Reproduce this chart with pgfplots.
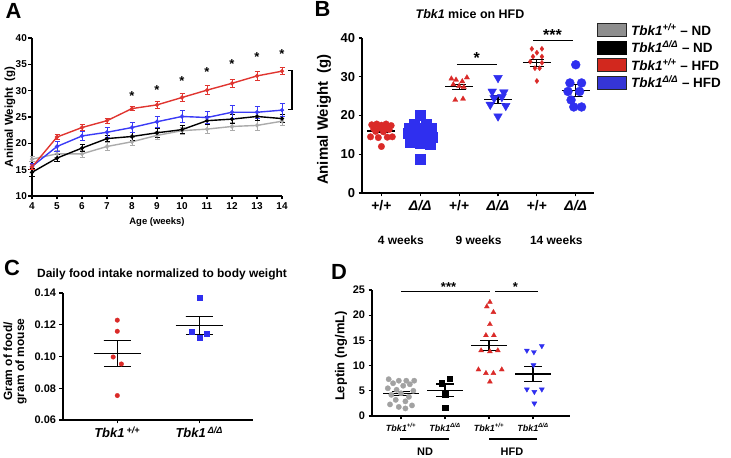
\documentclass[border=0pt]{standalone}
\usepackage{fontspec}
\setmainfont{Liberation Sans}
\usepackage{pgfplots}
\pgfplotsset{compat=1.18}

\definecolor{gpred}{HTML}{DA2A28}
\definecolor{gpblue}{HTML}{2F2FEF}
\definecolor{gpgray}{HTML}{A2A2A2}
\definecolor{lnred}{HTML}{E03530}
\definecolor{lnblue}{HTML}{3B3BF6}
\definecolor{lngray}{HTML}{ABABAB}
\definecolor{lgred}{HTML}{D2281E}
\definecolor{lgblue}{HTML}{3535D6}
\definecolor{lggray}{HTML}{8E8E8E}

\newcommand{\fs}[1]{\fontsize{#1}{#1}\selectfont}
\newcommand{\tbk}[1]{\textit{Tbk1}\textsuperscript{\textit{#1}}}

\tikzset{star/.style={font=\bfseries\fs{13}, inner sep=0pt, yshift=-2.5bp}}
\pgfplotsset{
 gp/.style={scale only axis, clip=false, axis x line*=bottom, axis y line*=left,
   axis line style={line width=1.4bp, black},
   tick style={line width=1.2bp, black},
   tick align=outside, major tick length=3.5bp,
   /pgf/number format/assume math mode=true,
   ticklabel style={font=\bfseries\fs{10.5}},
   label style={font=\bfseries\fs{12}}},
 bar/.style={black, line width=1.2bp, mark=none, forget plot},
 dots/.style={only marks, forget plot, color=#1, mark options={draw=#1, fill=#1, line width=0.3bp}},
 lgbox/.style={legend image code/.code={\draw[##1, line width=0.9bp] (0bp,-6.5bp) rectangle (29bp,6.5bp);}},
 errA/.style={error bars/.cd, y dir=both, y explicit, error bar style={line width=1bp}, error mark options={rotate=90, mark size=2.5bp, line width=1bp}},
}

\begin{document}
\begin{tikzpicture}
\useasboundingbox (0,0) rectangle (731bp,458bp);

%================ Panel A ================
\begin{axis}[gp, at={(32bp,262bp)}, anchor=south west, width=250bp, height=158bp,
  xmin=4, xmax=14, ymin=10, ymax=40, xtick={4,5,...,14}, ytick={10,15,...,40},
  ticklabel style={font=\bfseries\fs{10}},
  yticklabel style={inner xsep=1.5bp},
  ylabel={Animal Weight\ \ (g)},
  ylabel style={font=\bfseries\fs{11.5}, at={(axis description cs:0,0.5)}, yshift=22bp, anchor=center},
  xlabel={Age (weeks)},
  xlabel style={font=\bfseries\fs{9.5}, at={(axis description cs:0.5,0)}, yshift=-26bp, anchor=center},
]
\addplot[lngray, line width=1.4bp, mark=*, mark size=1.3bp, errA] table[x=x, y=y, y error=e] {
x y e
4 17.0 0.5
5 18.0 0.6
6 18.0 0.6
7 19.4 0.7
8 20.3 0.8
9 21.5 0.7
10 22.4 0.7
11 22.7 0.8
12 23.2 0.8
13 23.4 0.9
14 24.2 0.9
};
\addplot[black, line width=1.4bp, mark=*, mark size=1.3bp, errA] table[x=x, y=y, y error=e] {
x y e
4 14.5 0.8
5 17.2 0.6
6 19.1 0.6
7 20.9 0.6
8 21.3 0.8
9 22.0 0.8
10 22.6 0.8
11 24.3 0.8
12 24.6 0.9
13 25.1 0.8
14 24.7 0.8
};
\addplot[lnblue, line width=1.4bp, mark=*, mark size=1.3bp, errA] table[x=x, y=y, y error=e] {
x y e
4 15.6 0.5
5 19.4 0.9
6 21.4 0.8
7 22.1 0.9
8 23.0 1.0
9 24.1 1.0
10 25.1 1.1
11 24.9 1.1
12 25.9 1.2
13 25.9 1.1
14 26.3 1.3
};
\addplot[lnred, line width=1.4bp, mark=*, mark size=1.3bp, errA] table[x=x, y=y, y error=e] {
x y e
4 15.5 0.4
5 21.2 0.5
6 23.0 0.5
7 24.3 0.5
8 26.6 0.4
9 27.3 0.6
10 28.7 0.7
11 30.1 0.8
12 31.4 0.8
13 32.8 0.9
14 33.7 0.7
};
\node[star] at (axis cs:8,29.5) {*};
\node[star] at (axis cs:9,30.5) {*};
\node[star] at (axis cs:10,32.3) {*};
\node[star] at (axis cs:11,34.0) {*};
\node[star] at (axis cs:12,35.6) {*};
\node[star] at (axis cs:13,36.8) {*};
\node[star] at (axis cs:14,37.5) {*};
\draw[line width=1.3bp] (axis cs:14.24,33.8) -- (axis cs:14.4,33.8) -- (axis cs:14.4,26.4) -- (axis cs:14.24,26.4);
\end{axis}

%================ Panel B ================
\begin{axis}[gp, at={(362bp,265bp)}, anchor=south west, width=232bp, height=155bp,
  xmin=0.5, xmax=6.47, ymin=0, ymax=40, ytick={0,10,...,40}, xtick={1,...,6},
  xticklabels={+/+, \textit{Δ/Δ}, +/+, \textit{Δ/Δ}, +/+, \textit{Δ/Δ}},
  yticklabel style={font=\bfseries\fs{13}},
  xticklabel style={font=\bfseries\fs{14}},
  ylabel={Animal Weight\ \ (g)},
  ylabel style={font=\bfseries\fs{15}, at={(axis description cs:0,0.5)}, yshift=38bp, xshift=-4bp, anchor=center},
  legend style={at={(1.013,1.103)}, anchor=north west, draw=none, fill=none, inner sep=0pt,
     font=\bfseries\fs{13.5}, row sep=2bp, cells={anchor=west}, nodes={inner xsep=4bp, inner ysep=1bp}},
]
\addlegendimage{lgbox, fill=lggray, draw=black!85}
\addlegendimage{lgbox, fill=black, draw=black}
\addlegendimage{lgbox, fill=lgred, draw=black!85}
\addlegendimage{lgbox, fill=lgblue, draw=black!85}
\legend{\tbk{+/+} – ND, \tbk{Δ/Δ} – ND, \tbk{+/+} – HFD, \tbk{Δ/Δ} – HFD}

% 4 weeks +/+
\addplot[dots=gpred, mark=*, mark size=3.3bp] coordinates {
(0.75,17.6)(0.88,17.8)(1.0,17.5)(1.12,17.8)(1.25,17.4)(0.8,16.6)(0.95,16.8)(1.1,16.7)(1.2,16.4)
(0.85,15.9)(1.05,15.8)(0.72,14.5)(0.92,14.3)(1.15,14.4)(1.28,14.5)(1.0,12.0)};
% 4 weeks D/D
\addplot[dots=gpblue, mark=square*, mark size=5bp] coordinates {
(2.0,20.0)(1.85,17.8)(2.15,17.8)(1.72,16.8)(2.0,16.8)(2.28,16.8)(1.8,16.2)(2.1,16.2)
(1.7,15.5)(1.95,15.5)(2.2,15.5)(1.8,14.5)(2.05,14.5)(2.3,14.5)(1.9,13.5)(2.15,13.5)
(1.75,13.0)(2.25,12.5)(2.0,12.8)(2.0,8.8)};
% 9 weeks +/+
\addplot[dots=gpred, mark=triangle*, mark size=3bp] coordinates {
(2.8,29.5)(2.92,29.2)(3.08,28.8)(3.2,29.8)(2.85,28.0)(3.0,27.6)(3.12,27.3)(2.9,24.0)(3.1,24.3)};
% 9 weeks D/D
\addplot[dots=gpblue, mark=triangle*, mark size=5bp, mark options={rotate=180}] coordinates {
(4.0,29.7)(3.85,26.2)(4.15,26.0)(3.9,24.5)(4.1,24.8)(3.8,22.8)(4.2,22.5)(4.0,19.8)};
% 14 weeks +/+
\addplot[dots=gpred, mark=diamond*, mark size=2.6bp] coordinates {
(4.87,37.2)(5.13,37.2)(5.0,36.2)(4.9,35.2)(5.13,35.2)(4.83,33.9)(5.13,33.6)(4.95,32.2)(5.07,32.2)(5.0,28.9)};
% 14 weeks D/D
\addplot[dots=gpblue, mark=*, mark size=4.5bp] coordinates {
(6.0,33.1)(5.85,28.4)(6.15,28.4)(5.8,26.2)(6.1,26.2)(5.88,24.0)(5.95,22.2)(6.15,22.2)};

% mean and SEM
\addplot[bar] coordinates {(0.64,16.0)(1.36,16.0)};
\addplot[bar] coordinates {(0.82,15.6)(1.18,15.6)(1,15.6)(1,16.4)(0.82,16.4)(1.18,16.4)};
\addplot[bar] coordinates {(1.64,15.0)(2.36,15.0)};
\addplot[bar] coordinates {(1.82,14.3)(2.18,14.3)(2,14.3)(2,15.7)(1.82,15.7)(2.18,15.7)};
\addplot[bar] coordinates {(2.64,27.4)(3.36,27.4)};
\addplot[bar] coordinates {(2.82,26.8)(3.18,26.8)(3,26.8)(3,28.0)(2.82,28.0)(3.18,28.0)};
\addplot[bar] coordinates {(3.64,24.1)(4.36,24.1)};
\addplot[bar] coordinates {(3.82,23.0)(4.18,23.0)(4,23.0)(4,25.2)(3.82,25.2)(4.18,25.2)};
\addplot[bar] coordinates {(4.64,33.6)(5.36,33.6)};
\addplot[bar] coordinates {(4.82,32.7)(5.18,32.7)(5,32.7)(5,34.5)(4.82,34.5)(5.18,34.5)};
\addplot[bar] coordinates {(5.64,26.4)(6.36,26.4)};
\addplot[bar] coordinates {(5.82,24.9)(6.18,24.9)(6,24.9)(6,27.9)(5.82,27.9)(6.18,27.9)};

\draw[line width=1.3bp] (axis cs:2.94,33.2) -- (axis cs:3.97,33.2);
\node[star, font=\bfseries\fs{16}] at (axis cs:3.45,35.4) {*};
\draw[line width=1.3bp] (axis cs:4.91,39.4) -- (axis cs:5.92,39.4);
\node[star, font=\bfseries\fs{16}] at (axis cs:5.4,41.3) {***};
\node[font=\bfseries\fs{12}] at (axis cs:1.5,0) [yshift=-47bp] {4 weeks};
\node[font=\bfseries\fs{12}] at (axis cs:3.5,0) [yshift=-47bp] {9 weeks};
\node[font=\bfseries\fs{12}] at (axis cs:5.5,0) [yshift=-47bp] {14 weeks};
\end{axis}

%================ Panel C ================
\begin{axis}[gp, at={(63bp,38bp)}, anchor=south west, width=190bp, height=127bp,
  xmin=0.338, xmax=2.655, ymin=0.06, ymax=0.14, ytick={0.06,0.08,0.1,0.12,0.14},
  yticklabel style={font=\bfseries\fs{11}, /pgf/number format/fixed, /pgf/number format/precision=2, /pgf/number format/fixed zerofill},
  xtick={1,2}, xticklabels={\textit{Tbk1}\,\textsuperscript{\textit{+/+}}, \textit{Tbk1}\,\textsuperscript{\textit{Δ/Δ}}},
  xticklabel style={font=\bfseries\fs{13}},
  ylabel={Gram of food/\\gram of mouse},
  ylabel style={font=\bfseries\fs{12}, align=center, at={(axis description cs:0,0.5)}, yshift=48bp, xshift=-5bp, anchor=center},
]
\addplot[dots=gpred, mark=*, mark size=2.3bp] coordinates {
(1,0.1229)(1,0.1159)(0.95,0.0997)(1.05,0.0953)(1,0.0754)};
\addplot[dots=gpblue, mark=square*, mark size=2.5bp] coordinates {
(2,0.137)(1.905,0.1155)(2.095,0.1143)(2,0.1117)};
\addplot[bar] coordinates {(0.71,0.1017)(1.29,0.1017)};
\addplot[bar] coordinates {(0.835,0.0935)(1.165,0.0935)(1,0.0935)(1,0.1100)(0.835,0.1100)(1.165,0.1100)};
\addplot[bar] coordinates {(1.71,0.1195)(2.29,0.1195)};
\addplot[bar] coordinates {(1.835,0.1137)(2.165,0.1137)(2,0.1137)(2,0.1253)(1.835,0.1253)(2.165,0.1253)};
\end{axis}

%================ Panel D ================
\begin{axis}[gp, at={(372bp,42bp)}, anchor=south west, width=198bp, height=126bp,
  xmin=0.341, xmax=4.84, ymin=0, ymax=25, ytick={0,5,...,25},
  yticklabel style={font=\bfseries\fs{11}},
  xtick={1,2,3,4}, xticklabels={\tbk{+/+}, \tbk{Δ/Δ}, \tbk{+/+}, \tbk{Δ/Δ}},
  xticklabel style={font=\bfseries\fs{9}},
  ylabel={Leptin (ng/mL)},
  ylabel style={font=\bfseries\fs{13}, at={(axis description cs:0,0.5)}, yshift=31bp, xshift=-3bp, anchor=center},
]
\addplot[dots=gpgray, mark=*, mark size=2.7bp] coordinates {
(0.72,7.3)(0.95,7.0)(1.12,7.0)(1.3,7.0)(0.82,6.5)(1.2,6.3)(1.05,6.0)(0.7,5.5)(0.9,5.2)(1.28,5.0)
(1.0,4.5)(0.78,4.2)(1.18,3.8)(0.88,3.2)(1.1,2.9)(0.75,2.3)(1.25,2.1)(0.95,1.8)(1.1,1.5)};
\addplot[dots=black, mark=square*, mark size=2.7bp] coordinates {
(2.11,7.4)(1.92,6.5)(2.0,4.3)(2.0,1.7)};
\addplot[dots=gpred, mark=triangle*, mark size=2.9bp] coordinates {
(3.02,22.6)(2.95,21.7)(3.1,20.6)(3.02,18.2)(2.93,16.0)(3.11,16.0)(2.82,13.0)(3.02,12.8)(3.2,13.0)
(2.76,9.2)(3.29,9.2)(2.93,8.5)(3.1,8.5)(3.02,6.8)};
\addplot[dots=gpblue, mark=triangle*, mark size=2.9bp, mark options={rotate=180}] coordinates {
(4.2,13.9)(3.86,13.0)(4.02,12.7)(4.01,10.1)(3.86,5.3)(4.2,5.3)(4.03,4.8)(4.03,2.5)};
\addplot[bar] coordinates {(0.6,4.45)(1.4,4.45)};
\addplot[bar] coordinates {(0.8,4.0)(1.2,4.0)(1,4.0)(1,4.9)(0.8,4.9)(1.2,4.9)};
\addplot[bar] coordinates {(1.6,5.1)(2.4,5.1)};
\addplot[bar] coordinates {(1.8,3.85)(2.2,3.85)(2,3.85)(2,6.35)(1.8,6.35)(2.2,6.35)};
\addplot[bar] coordinates {(2.6,14.0)(3.4,14.0)};
\addplot[bar] coordinates {(2.8,13.0)(3.2,13.0)(3,13.0)(3,15.0)(2.8,15.0)(3.2,15.0)};
\addplot[bar] coordinates {(3.6,8.35)(4.4,8.35)};
\addplot[bar] coordinates {(3.8,6.8)(4.2,6.8)(4,6.8)(4,9.9)(3.8,9.9)(4.2,9.9)};
\draw[line width=1.3bp] (axis cs:1.0,24.7) -- (axis cs:3.02,24.7);
\draw[line width=1.3bp] (axis cs:3.14,24.7) -- (axis cs:4.12,24.7);
\node[star] at (axis cs:2.08,26.1) {***};
\node[star] at (axis cs:3.6,26.1) {*};
\end{axis}

% panel letters, titles, annotations
\node[font=\bfseries\fs{22}] at (13.5bp,447.5bp) {A};
\node[font=\bfseries\fs{22}] at (322.5bp,449bp) {B};
\node[font=\bfseries\fs{22}] at (12bp,190bp) {C};
\node[font=\bfseries\fs{22}] at (339bp,186bp) {D};
\node[font=\bfseries\fs{12.5}] at (470bp,444bp) {\textit{Tbk1} mice on HFD};
\node[font=\bfseries\fs{12}] at (162bp,184bp) {Daily food intake normalized to body weight};
\draw[line width=1.3bp] (400bp,19bp) -- (449bp,19bp);
\draw[line width=1.3bp] (489bp,19bp) -- (537bp,19bp);
\node[font=\bfseries\fs{11}] at (425bp,6.3bp) {ND};
\node[font=\bfseries\fs{11}] at (512bp,6.3bp) {HFD};
\end{tikzpicture}
\end{document}
